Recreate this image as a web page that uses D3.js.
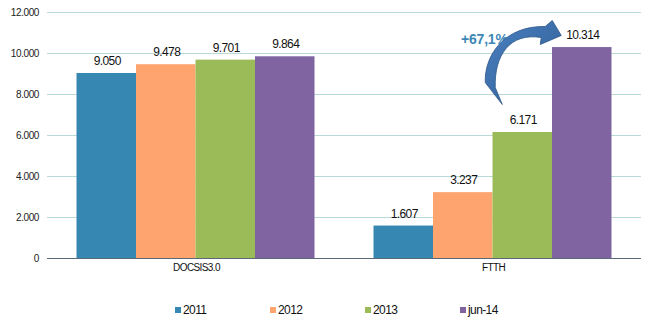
<!DOCTYPE html>
<html><head><meta charset="utf-8">
<script src="https://cdn.jsdelivr.net/npm/d3@7"></script>
<style>
body{margin:0;background:#fff;}
svg{font-family:"Liberation Sans",Arial,Helvetica,sans-serif;}
</style></head>
<body><svg id="c" width="658" height="330"></svg>
<script>
const categories = ["DOCSIS3.0", "FTTH"];
const seriesNames = ["2011", "2012", "2013", "jun-14"];
const values2011 = [9050, 1607];
const values2012 = [9478, 3237];
const values2013 = [9701, 6171];
const valuesJun14 = [9864, 10314];
const yTicks = [0, 2000, 4000, 6000, 8000, 10000, 12000];
const annotation = "+67,1%";

(function(){
const series = [values2011, values2012, values2013, valuesJun14];
const colors = ["#3687b1", "#fda46f", "#9bbb59", "#8064a2"];

const svg = d3.select("#c");
const mLeft = 47, mRight = 641, mTop = 12.5, mBottom = 258.5;

const y = d3.scaleLinear().domain([0, 12000]).range([mBottom, mTop]);
const x0 = d3.scaleBand().domain(categories).range([mLeft, mRight]).paddingInner(0).paddingOuter(0);
const x1 = d3.scaleBand().domain(seriesNames).range([29.5, x0.bandwidth() - 29.5]).padding(0);

const fmt = v => d3.format(",")(v).replace(/,/g, ".");

svg.append("g").selectAll("line").data(yTicks.filter(t => t > 0)).join("line")
  .attr("x1", mLeft).attr("x2", mRight)
  .attr("y1", d => y(d)).attr("y2", d => y(d))
  .attr("stroke", "#b9d9d8").attr("stroke-width", 1);

svg.append("g").selectAll("text").data(yTicks).join("text")
  .attr("x", 39).attr("y", d => y(d) + 3.5)
  .attr("text-anchor", "end").attr("font-size", 10).attr("letter-spacing", -0.4)
  .attr("fill", "#222").text(d => fmt(d));

const groups = svg.append("g").selectAll("g").data(categories).join("g")
  .attr("transform", d => `translate(${x0(d)},0)`);
groups.each(function(cat, ci) {
  const g = d3.select(this);
  seriesNames.forEach((s, si) => {
    const v = series[si][ci];
    g.append("rect").attr("x", x1(s)).attr("width", x1.bandwidth())
      .attr("y", y(v)).attr("height", y(0) - y(v)).attr("fill", colors[si]);
    g.append("text").attr("x", x1(s) + x1.bandwidth() / 2 + 1).attr("y", y(v) - 8)
      .attr("text-anchor", "middle").attr("font-size", 12).attr("letter-spacing", -0.6)
      .attr("fill", "#111").text(fmt(v));
  });
});

svg.append("line").attr("x1", mLeft).attr("x2", mRight).attr("y1", y(0)).attr("y2", y(0))
  .attr("stroke", "#5a6878").attr("stroke-width", 1);

svg.append("g").selectAll("text").data(categories).join("text")
  .attr("x", d => x0(d) + x0.bandwidth() / 2 + 1).attr("y", 270.5)
  .attr("text-anchor", "middle").attr("font-size", 10).attr("letter-spacing", -0.6)
  .attr("fill", "#111").text(d => d);

const lg = svg.append("g").selectAll("g").data(seriesNames).join("g")
  .attr("transform", (d, i) => `translate(${175 + i * 95},310)`);
lg.append("rect").attr("x", 0).attr("y", -3).attr("width", 6).attr("height", 6)
  .attr("fill", (d, i) => colors[i]);
lg.append("text").attr("x", 8).attr("y", 4.3).attr("font-size", 12).attr("letter-spacing", -0.6)
  .attr("fill", "#111").text(d => d);

// annotation text (drawn beneath the arrow)
svg.append("text").attr("x", 461).attr("y", 43.5).attr("font-size", 14).attr("font-weight", "bold")
  .attr("letter-spacing", -0.2).attr("fill", "#3d87b5").text(annotation);

// curved arrow from the 2013 FTTH bar to the jun-14 FTTH bar
const bx = x0("FTTH") + x1("2013") + x1.bandwidth() / 2;
const p = (dx, v) => [bx + dx, y(v)];
const path = d3.path();
let a = p(-37, 8585); path.moveTo(...a);
let c1 = p(-38, 9951), c2 = p(-17, 11366); a = p(23, 11317);
path.bezierCurveTo(...c1, ...c2, ...a);
a = p(30, 11610); path.lineTo(...a);
a = p(39, 10878); path.lineTo(...a);
a = p(18, 10439); path.lineTo(...a);
a = p(19, 10780); path.lineTo(...a);
c1 = p(-12, 11024); c2 = p(-28, 9951); a = p(-27, 8341);
path.bezierCurveTo(...c1, ...c2, ...a);
a = p(-20, 7512); path.lineTo(...a);
path.closePath();

const defs = svg.append("defs");
const grad = defs.append("linearGradient").attr("id", "ag").attr("x1", 0).attr("y1", 0).attr("x2", 1).attr("y2", 1);
grad.append("stop").attr("offset", "0%").attr("stop-color", "#4a80c0");
grad.append("stop").attr("offset", "100%").attr("stop-color", "#2f5d95");
svg.append("path").attr("d", path.toString()).attr("fill", "url(#ag)")
  .attr("stroke", "#2c5585").attr("stroke-width", 0.8).attr("stroke-linejoin", "round");
})();
</script></body></html>
